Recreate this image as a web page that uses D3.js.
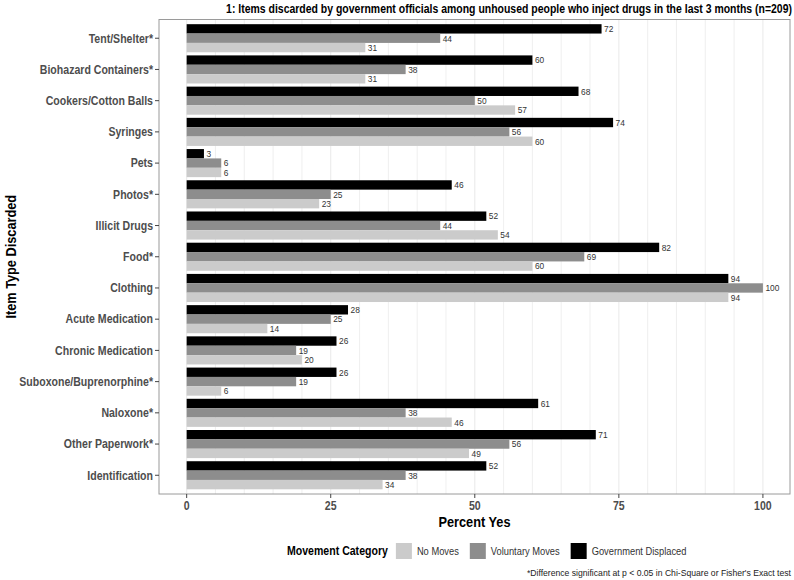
<!DOCTYPE html>
<html>
<head>
<meta charset="utf-8">
<script src="https://cdn.jsdelivr.net/npm/d3@7"></script>
<style>
  body { margin: 0; background: #fff; }
  svg { display: block; font-family: "Liberation Sans", Arial, sans-serif; }
</style>
</head>
<body>
<div id="chart"></div>
<script>
// item types, top to bottom
const items = [
	"Tent/Shelter*",
	"Biohazard Containers*",
	"Cookers/Cotton Balls",
	"Syringes",
	"Pets",
	"Photos*",
	"Illicit Drugs",
	"Food*",
	"Clothing",
	"Acute Medication",
	"Chronic Medication",
	"Suboxone/Buprenorphine*",
	"Naloxone*",
	"Other Paperwork*",
	"Identification",
];
const govDisplaced = [72, 60, 68, 74, 3, 46, 52, 82, 94, 28, 26, 26, 61, 71, 52];
const voluntaryMoves = [44, 38, 50, 56, 6, 25, 44, 69, 100, 25, 19, 19, 38, 56, 38];
const noMoves = [31, 31, 57, 60, 6, 23, 54, 60, 94, 14, 20, 6, 46, 49, 34];
const xTicks = [0, 25, 50, 75, 100];
const legendOrder = ["No Moves", "Voluntary Moves", "Government Displaced"];
const barOrder = ["Government Displaced", "Voluntary Moves", "No Moves"];

const drawChart = (element) => {
	const W = 794, H = 580;
	const sx = 0.88; // the text in the picture is a little narrow
	const colors = {
		"No Moves": "#cbcbcb",
		"Voluntary Moves": "#8d8d8d",
		"Government Displaced": "#000000",
	};
	const panel = { left: 159, right: 790, top: 19.5, bottom: 494 };

	const rows = items.map((item, i) => ({
		item,
		"Government Displaced": govDisplaced[i],
		"Voluntary Moves": voluntaryMoves[i],
		"No Moves": noMoves[i],
	}));

	d3.select(element).select("svg").remove();
	const svg = d3
		.select(element)
		.append("svg")
		.attr("width", W)
		.attr("height", H);

	// text helper: narrow glyphs via horizontal scale
	const addText = (sel, x, y, str, s = sx) =>
		sel
			.append("text")
			.attr("transform", `translate(${x},${y}) scale(${s},1)`)
			.text(str);

	const x = d3.scaleLinear().domain([-4.8, 104.7]).range([panel.left, panel.right]);
	const y = d3
		.scaleBand()
		.domain(items)
		.range([panel.top, panel.bottom])
		.paddingInner(0.1)
		.paddingOuter(0.15);
	const ySub = d3.scaleBand().domain(barOrder).range([0, y.bandwidth()]);

	// grid lines every 5 units
	svg
		.append("g")
		.selectAll("line")
		.data(d3.range(0, 105, 5))
		.enter()
		.append("line")
		.attr("x1", (d) => x(d))
		.attr("x2", (d) => x(d))
		.attr("y1", panel.top)
		.attr("y2", panel.bottom)
		.style("stroke", "#ebebeb")
		.style("stroke-width", (d) => (d % 25 === 0 ? 1.1 : 0.8));

	// bars
	const groups = svg
		.append("g")
		.selectAll("g")
		.data(rows)
		.enter()
		.append("g")
		.attr("transform", (d) => `translate(0,${y(d.item)})`);

	const cells = groups
		.selectAll("g")
		.data((d) => barOrder.map((k) => ({ key: k, value: d[k] })))
		.enter()
		.append("g");

	cells
		.append("rect")
		.attr("x", x(0))
		.attr("y", (d) => ySub(d.key))
		.attr("width", (d) => x(d.value) - x(0))
		.attr("height", ySub.bandwidth())
		.style("fill", (d) => colors[d.key]);

	cells.each(function (d) {
		addText(
			d3.select(this),
			x(d.value) + 2.5,
			ySub(d.key) + ySub.bandwidth() / 2 + 3.3,
			d.value
		)
			.style("font-size", "9.5px")
			.style("fill", "#333");
	});

	// panel border
	svg
		.append("rect")
		.attr("x", panel.left)
		.attr("y", panel.top)
		.attr("width", panel.right - panel.left)
		.attr("height", panel.bottom - panel.top)
		.style("fill", "none")
		.style("stroke", "#9a9a9a")
		.style("stroke-width", 1);

	// y axis
	const yAxis = svg.append("g");
	items.forEach((item) => {
		const cy = y(item) + y.bandwidth() / 2;
		yAxis
			.append("line")
			.attr("x1", panel.left - 4)
			.attr("x2", panel.left)
			.attr("y1", cy)
			.attr("y2", cy)
			.style("stroke", "#444");
		addText(yAxis, panel.left - 6, cy + 4.3, item)
			.attr("text-anchor", "end")
			.style("font-size", "12px")
			.style("font-weight", "bold")
			.style("fill", "#4d4d4d");
	});

	// x axis
	const xAxis = svg.append("g");
	xTicks.forEach((t) => {
		xAxis
			.append("line")
			.attr("x1", x(t))
			.attr("x2", x(t))
			.attr("y1", panel.bottom)
			.attr("y2", panel.bottom + 4)
			.style("stroke", "#444");
		addText(xAxis, x(t), panel.bottom + 16, t)
			.attr("text-anchor", "middle")
			.style("font-size", "12px")
			.style("font-weight", "bold")
			.style("fill", "#4d4d4d");
	});

	// axis titles
	addText(svg, (panel.left + panel.right) / 2, 527, "Percent Yes")
		.attr("text-anchor", "middle")
		.style("font-size", "14.5px")
		.style("font-weight", "bold");
	svg
		.append("text")
		.attr("transform", `translate(16,${(panel.top + panel.bottom) / 2}) rotate(-90) scale(${sx},1)`)
		.attr("text-anchor", "middle")
		.style("font-size", "14.5px")
		.style("font-weight", "bold")
		.text("Item Type Discarded");

	// title
	addText(
		svg,
		792,
		13,
		"1: Items discarded by government officials among unhoused people who inject drugs in the last 3 months (n=209)",
		0.805
	)
		.attr("text-anchor", "end")
		.style("font-size", "13px")
		.style("font-weight", "bold");

	// legend
	const legend = svg.append("g");
	const ly = 551;
	const lt = addText(legend, 287, ly + 4.3, "Movement Category")
		.style("font-size", "12px")
		.style("font-weight", "bold");
	let lx = 287 + lt.node().getComputedTextLength() * sx + 8;
	legendOrder.forEach((k) => {
		legend
			.append("rect")
			.attr("x", lx)
			.attr("y", ly - 8)
			.attr("width", 16)
			.attr("height", 16)
			.style("fill", colors[k]);
		const t = addText(legend, lx + 21, ly + 3.6, k)
			.style("font-size", "10.6px")
			.style("fill", "#333");
		lx += 21 + t.node().getComputedTextLength() * sx + 11;
	});

	// footnote
	addText(svg, 791, 576, "*Difference significant at p < 0.05 in Chi-Square or Fisher's Exact test")
		.attr("text-anchor", "end")
		.style("font-size", "9.8px")
		.style("fill", "#222");
};

drawChart(document.getElementById("chart"));
</script>
</body>
</html>
